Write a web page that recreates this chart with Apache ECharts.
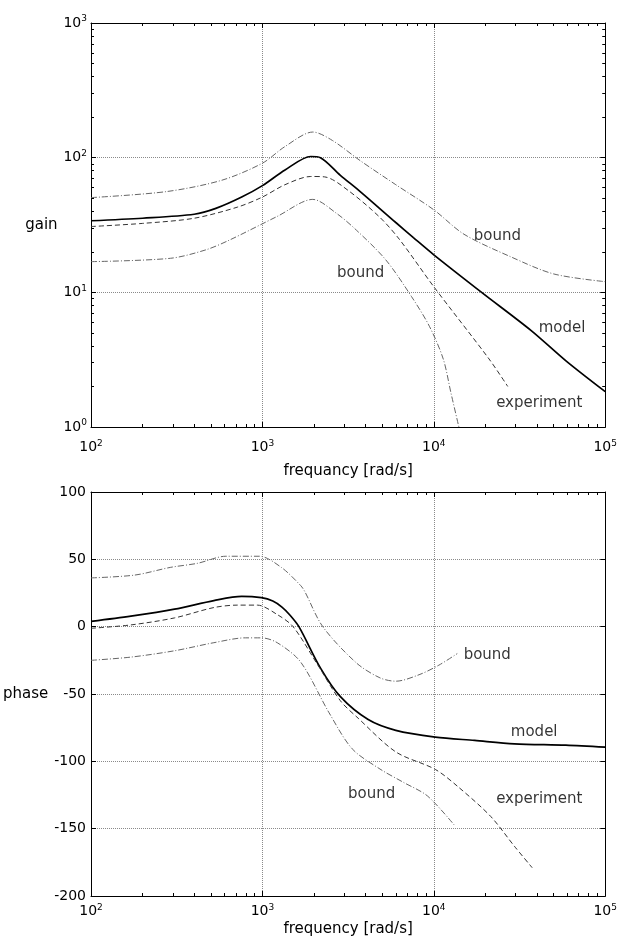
<!DOCTYPE html>
<html><head><meta charset="utf-8">
<script src="https://cdn.jsdelivr.net/npm/echarts@6/dist/echarts.min.js"></script>
<style>html,body{margin:0;padding:0;background:#fff}#c{width:620px;height:952px}</style>
</head><body><div id="c"></div>
<script>
// ---------- data ----------
const gainModelFreq = [100,200,400,535,757,1000,1355,1915,2180,2850,3720,6000,7600,10000,19000,37000,59000,100000];
const gainModel     = [34,35.5,38,42,51,62,81,102,100,74,56,33,25.5,19,10,5.2,3.1,1.83];

const gainExpFreq = [100,200,400,718,1000,1355,1915,2307,3170,4850,6320,10000,21000,27000];
const gainExp     = [30.8,32.5,35.5,43,51,63,72.5,72,57,36,24.6,11,3.2,2.0];

const gainUpFreq = [100,276,580,1000,1355,1968,2566,3720,6000,10000,15000,28000,50000,100000];
const gainUp     = [50.5,56,68,91,121,155,134,95,63,41,27,18.4,13.7,12];

const gainLoFreq = [100,291,469,645,1219,1968,2705,3530,5250,7410,9420,11350,12600,14000];
const gainLo     = [16.9,17.9,20.7,24.5,36.6,49,38.6,29,17.4,9.3,5.6,3.2,1.78,1.0];

const phaseModelFreq = [100,171,307,521,757,986,1150,1300,1450,1633,2187,2851,4140,6000,10200,17300,29500,58900,100000];
const phaseModel     = [3.9,7.8,13,19.4,22.5,21.5,19,14.5,8.5,0,-31,-52,-69,-77,-82,-84.5,-87,-88,-89.5];

const phaseExpFreq = [100,171,307,521,715,935,1220,1510,2070,2850,3620,6000,10200,14030,21500,29500,37500];
const phaseExp     = [-1.2,1.3,6.5,14.2,16,16,9,0,-27,-55,-68,-93,-106,-119.5,-141,-163,-179];

const phaseUpFreq = [100,180,290,420,612,960,1290,1670,1770,2250,3540,4850,6000,8200,10700,13700];
const phaseUp     = [36.2,38.3,44,47.1,52.3,52.3,44,30.6,25.9,0,-27,-38,-40.5,-35.7,-28.6,-20];

const phaseLoFreq = [100,171,307,521,795,986,1220,1670,2450,3340,4850,6670,9180,13300];
const phaseLo     = [-25,-22.6,-17.9,-11.9,-8.3,-8.3,-11.9,-26.2,-64,-90.7,-105.7,-115.7,-125.7,-148];

const gainNotes  = [['bound',23500,26.2],['bound',3740,13.9],['model',56000,5.45],['experiment',41200,1.51]];
const phaseNotes = [['bound',20500,-21],['model',38500,-78],['bound',4340,-124.6],['experiment',41200,-128]];

const freqRange  = [100, 100000];
const gainRange  = [1, 1000];
const phaseRange = [-200, 100];
const phaseStep  = 50;

// ---------- chart ----------
const FONT = '"DejaVu Sans", "Liberation Sans", Arial, sans-serif';
const INK = '#000';
const zip = (xs, ys) => xs.map((x,i)=>[x, ys[i]]);
const pow10 = v => '{b|10}{s|' + Math.round(Math.log10(v)) + '}';
const rich = {
  b:{fontSize:14, fontFamily:FONT, color:INK, lineHeight:17},
  s:{fontSize:9, fontFamily:FONT, color:INK, verticalAlign:'top', lineHeight:10}
};
const grids = [
  {left:91, width:515, top:23, height:404},
  {left:91, width:515, top:492, height:404}
];
const axLine = {show:true, onZero:false, lineStyle:{color:INK, width:1}};
const tick = {show:true, inside:true, length:5, lineStyle:{color:INK}};
const minor = {show:true, splitNumber:9, length:3, lineStyle:{color:INK}};
const grid = {show:true, lineStyle:{color:'#8a8a8a', type:'dotted', width:1}};
const nameStyle = {fontFamily:FONT, fontSize:15, color:INK};

function logX(gi, pos, name, nameGap, labelMargin, main){
  return {
    gridIndex:gi, type:'log', logBase:10, min:freqRange[0], max:freqRange[1], interval:1, position:pos,
    axisLine:axLine, axisTick:tick, minorTick:minor,
    splitLine: main ? grid : {show:false},
    axisLabel: main ? {show:true, formatter:pow10, rich:rich, margin:labelMargin} : {show:false},
    name: main ? name : '', nameLocation:'middle', nameGap:nameGap, nameTextStyle:nameStyle
  };
}
const xAxis = [
  logX(0,'bottom','frequancy [rad/s]',37,12,true),
  logX(0,'top','',0,0,false),
  logX(1,'bottom','frequency [rad/s]',26,7,true),
  logX(1,'top','',0,0,false)
];
const yAxis = [
  {gridIndex:0, type:'log', logBase:10, min:gainRange[0], max:gainRange[1], interval:1, position:'left',
   axisLine:axLine, axisTick:tick, minorTick:minor, splitLine:grid,
   axisLabel:{formatter:pow10, rich:rich, margin:4},
   name:'gain', nameLocation:'middle', nameRotate:0, nameGap:22, nameTextStyle:nameStyle},
  {gridIndex:0, type:'log', logBase:10, min:gainRange[0], max:gainRange[1], interval:1, position:'right',
   axisLine:axLine, axisTick:tick, minorTick:minor, splitLine:{show:false}, axisLabel:{show:false}},
  {gridIndex:1, type:'value', min:phaseRange[0], max:phaseRange[1], interval:phaseStep, position:'left',
   axisLine:axLine, axisTick:tick, splitLine:grid,
   axisLabel:{fontFamily:FONT, fontSize:14, color:INK, margin:5},
   name:'phase', nameLocation:'middle', nameRotate:0, nameGap:36, nameTextStyle:nameStyle},
  {gridIndex:1, type:'value', min:phaseRange[0], max:phaseRange[1], interval:phaseStep, position:'right',
   axisLine:axLine, axisTick:tick, splitLine:{show:false}, axisLabel:{show:false}}
];

const styles = {
  model:{color:'#000', width:1.7, type:'solid'},
  exp:{color:'#333', width:1, type:[5,3]},
  bound:{color:'#666', width:1, type:[6,2,1,2]}
};
function line(name, xs, ys, xi, yi, st){
  return {name, type:'line', xAxisIndex:xi, yAxisIndex:yi, data:zip(xs,ys),
    showSymbol:false, smooth:0.3, lineStyle:st, silent:true, z:3};
}
function notes(arr, xi, yi){
  return {type:'scatter', xAxisIndex:xi, yAxisIndex:yi, symbolSize:0, silent:true,
    data: arr.map(n=>({value:[n[1], n[2]], name:n[0]})),
    label:{show:true, position:'inside', formatter:p=>p.name,
      fontFamily:FONT, fontSize:15, color:INK}};
}
const series = [
  line('model', gainModelFreq, gainModel, 0, 0, styles.model),
  line('experiment', gainExpFreq, gainExp, 0, 0, styles.exp),
  line('upper bound', gainUpFreq, gainUp, 0, 0, styles.bound),
  line('lower bound', gainLoFreq, gainLo, 0, 0, styles.bound),
  notes(gainNotes, 0, 0),
  line('model', phaseModelFreq, phaseModel, 2, 2, styles.model),
  line('experiment', phaseExpFreq, phaseExp, 2, 2, styles.exp),
  line('upper bound', phaseUpFreq, phaseUp, 2, 2, styles.bound),
  line('lower bound', phaseLoFreq, phaseLo, 2, 2, styles.bound),
  notes(phaseNotes, 2, 2)
];

const chart = echarts.init(document.getElementById('c'), null, {renderer:'canvas'});
chart.setOption({
  backgroundColor:'#fff', animation:false,
  grid:grids, xAxis:xAxis, yAxis:yAxis, series:series
});
</script></body></html>
